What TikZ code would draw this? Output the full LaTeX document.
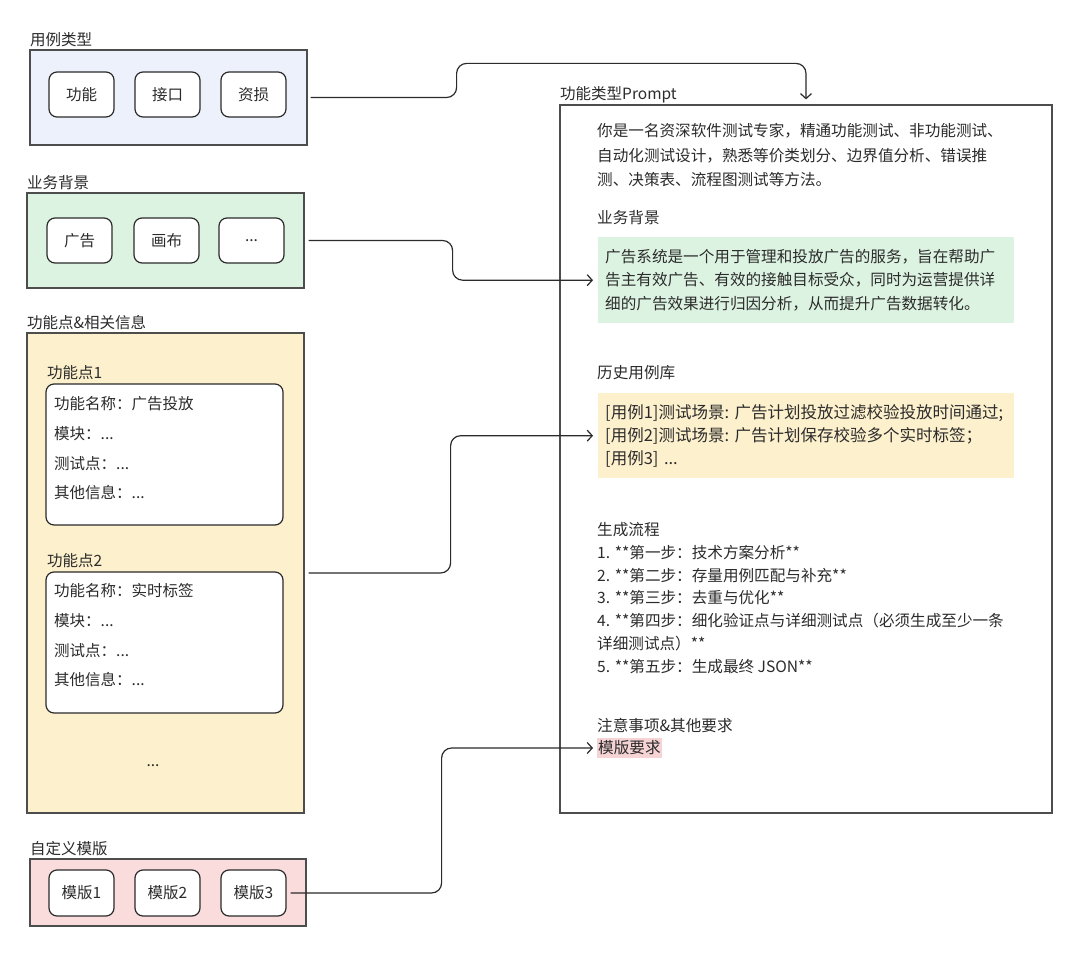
\documentclass[tikz,border=0pt]{standalone}
\usepackage{fontspec}
\setmainfont{Noto Sans CJK SC}
\usepackage{tikz}
\usepackage{xcolor}
\usetikzlibrary{arrows.meta}
\definecolor{ink}{HTML}{2B2B2B}
\definecolor{edge}{HTML}{4D4D4D}
\definecolor{bluebg}{HTML}{EDF1FB}
\definecolor{greenbg}{HTML}{DDF3E2}
\definecolor{yellowbg}{HTML}{FDF0CD}
\definecolor{pinkbg}{HTML}{FADCDC}
\definecolor{pinkhl}{HTML}{F6D3D5}

\begin{document}
\begin{tikzpicture}[x=1pt,y=-1pt]
\tikzstyle{every node}=[inner sep=0pt,text=ink,font=\fontsize{15.5}{23}\selectfont];
\tikzstyle{panel}=[draw=edge,line width=1.2pt];
\tikzstyle{item}=[draw=ink,line width=1.2pt,rounded corners=8pt,fill=white,minimum width=65pt,minimum height=45pt];
\tikzstyle{card}=[draw=ink,line width=1.2pt,rounded corners=8pt,fill=white,minimum width=237pt,minimum height=141pt];
\tikzstyle{title}=[anchor=west];
\tikzstyle{para}=[anchor=north west,align=left];
\tikzstyle{hl}=[anchor=north west,align=left,minimum width=416pt,text width=402pt,inner xsep=7pt];
\tikzstyle{link}=[draw=ink,line width=1.2pt,rounded corners=10pt,-{Straight Barb[length=5pt,width=11pt]}];
\fill[white] (0,0) rectangle (1080,955);
\useasboundingbox (0,0) rectangle (1080,955);
% left column
\node[title](typetitle) at (30,40) {用例类型};
\node[panel,fill=bluebg,minimum width=277pt,minimum height=95pt](typebox) at (168.5,97.5) {};
\node[item](gongneng) at (81.5,94.5) {功能};
\node[item](jiekou) at (167.5,94.5) {接口};
\node[item](zisun) at (253.5,94.5) {资损};
\node[title](biztitle) at (27,183) {业务背景};
\node[panel,fill=greenbg,minimum width=277pt,minimum height=95pt](bizbox) at (165.5,240.5) {};
\node[item](guanggao) at (79.5,240.5) {广告};
\node[item](huabu) at (166.5,240.5) {画布};
\node[item](bizmore) at (251.5,240.5) {...};
\node[title](functitle) at (27,323) {功能点\&相关信息};
\node[panel,fill=yellowbg,minimum width=277pt,minimum height=480pt](funcbox) at (165.5,573) {};
\node[title](fpatitle) at (47,373) {功能点1};
\node[card](fpa) at (164.5,454.5) {};
\node[title](fpa1) at (54,404) {功能名称：广告投放};
\node[title](fpa2) at (54,434) {模块：...};
\node[title](fpa3) at (54,464) {测试点：...};
\node[title](fpa4) at (54,493) {其他信息：...};
\node[title](fpbtitle) at (47,561) {功能点2};
\node[card](fpb) at (164.5,642.5) {};
\node[title](fpb1) at (54,591) {功能名称：实时标签};
\node[title](fpb2) at (54,621) {模块：...};
\node[title](fpb3) at (54,651) {测试点：...};
\node[title](fpb4) at (54,680) {其他信息：...};
\node(funcmore) at (153,766) {...};
\node[title](tpltitle) at (30,849) {自定义模版};
\node[panel,fill=pinkbg,minimum width=276pt,minimum height=67pt](tplbox) at (168,892.5) {};
\node[item,minimum height=46pt](tpl1) at (81.5,893) {模版1};
\node[item,minimum height=46pt](tpl2) at (167.5,893) {模版2};
\node[item,minimum height=46pt](tpl3) at (253.5,893) {模版3};
% prompt
\node[title](prompttitle) at (560,95) {功能类型Prompt};
\node[panel,fill=white,minimum width=492pt,minimum height=708pt](promptbox) at (806,459) {};
\node[para,font=\fontsize{15.6}{24.5}\selectfont](intro) at (597,123.2) {你是一名资深软件测试专家，精通功能测试、非功能测试、\\自动化测试设计，熟悉等价类划分、边界值分析、错误推\\测、决策表、流程图测试等方法。};
\node[title,font=\fontsize{15.6}{23}\selectfont](bgtitle) at (597,218) {业务背景};
\node[hl,fill=greenbg,minimum height=86pt,font=\fontsize{15.6}{23.5}\selectfont](bgtext) at (598,237) {广告系统是一个用于管理和投放广告的服务，旨在帮助广\\告主有效广告、有效的接触目标受众，同时为运营提供详\\细的广告效果进行归因分析，从而提升广告数据转化。};
\node[title,font=\fontsize{15.6}{23}\selectfont](histtitle) at (597,373) {历史用例库};
\node[hl,fill=yellowbg,minimum height=85pt,font=\fontsize{16.5}{23}\selectfont](histtext) at (598,393) {{[}用例1]测试场景:~广告计划投放过滤校验投放时间通过;\\{[}用例2]测试场景:~广告计划保存校验多个实时标签；\\{[}用例3]~...};
\node[para,font=\fontsize{15.6}{22.8}\selectfont](flow) at (597,522.2) {生成流程\\1. **第一步：技术方案分析**\\2. **第二步：存量用例匹配与补充**\\3. **第三步：去重与优化**\\4. **第四步：细化验证点与详细测试点（必须生成至少一条\\详细测试点）**\\5. **第五步：生成最终 JSON**};
\node[title,font=\fontsize{15.6}{23}\selectfont](notetitle) at (597,726) {注意事项\&其他要求};
\node[title,fill=pinkhl,inner xsep=1pt,inner ysep=3pt,font=\fontsize{15.6}{23}\selectfont](tplreq) at (597,748) {模版要求};
% links
\draw[link]([xshift=3pt]typebox.east) -- ++(146,0) |- ([yshift=41pt]promptbox.north) -- ([yshift=5pt]promptbox.north);
\draw[link,shorten >=5pt]([xshift=4pt]bizbox.east) -- ++(144,0) |- (bgtext.west);
\draw[link,shorten >=5pt]([xshift=4pt]funcbox.east) -- ++(142,0) |- (histtext.west);
\draw[link,shorten >=4pt]([xshift=4pt]tpl3.east) -- ++(151,0) |- (tplreq.west);
\end{tikzpicture}
\end{document}
